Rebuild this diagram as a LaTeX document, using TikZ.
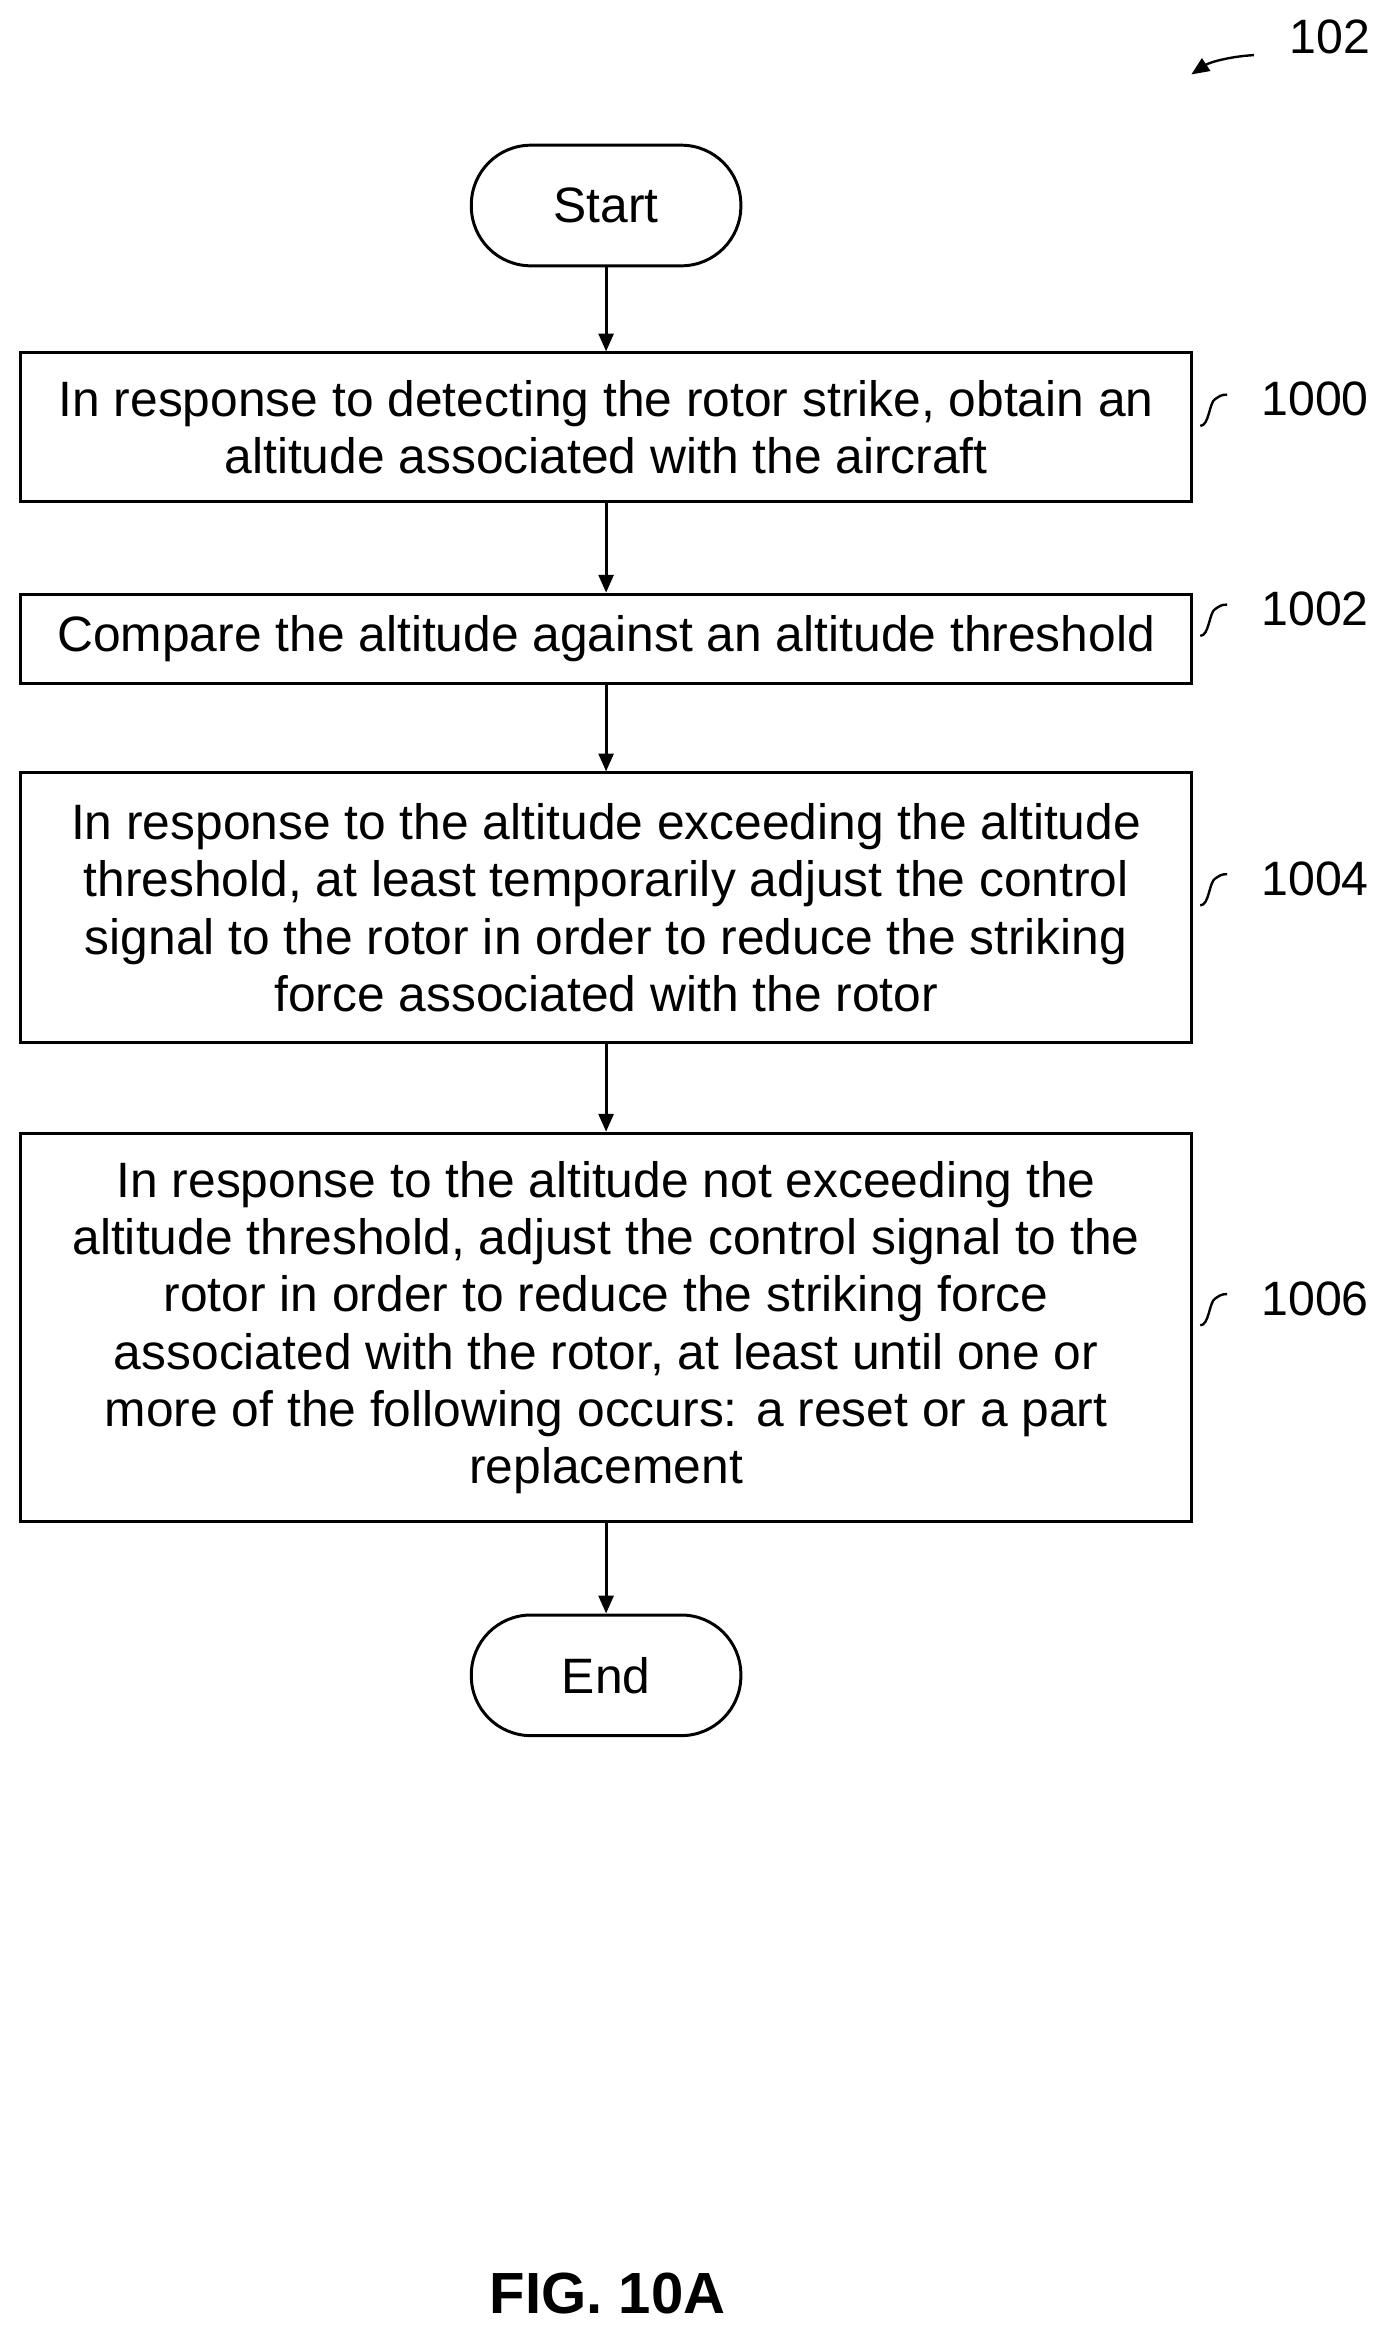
\documentclass[tikz,border=0pt]{standalone}
\usepackage{fontspec}
\setmainfont{Liberation Sans}
\usetikzlibrary{arrows.meta}
\begin{document}
\begin{tikzpicture}[x=0.5pt,y=-0.5pt,
  box/.style={draw,line width=1pt,minimum width=393pt,align=center,font=\fontsize{16.7}{19.2}\selectfont,inner sep=0pt},
  term/.style={draw,line width=1pt,rounded corners=20pt,minimum width=90.5pt,minimum height=40.5pt,font=\fontsize{16.7}{19}\selectfont},
  lab/.style={font=\fontsize{16.2}{19}\selectfont},
  arr/.style={-{Triangle[length=6pt,width=5pt]},line width=1pt},
  sq/.style={line width=0.8pt}]
\useasboundingbox (0,0) rectangle (930,1568);
\node[term] (start) at (407,138) {Start};
\node[box,minimum height=50pt] (b1) at (407,287) {In response to detecting the rotor strike, obtain an\\altitude associated with the aircraft};
\node[box,minimum height=30pt] (b2) at (407,429) {Compare the altitude against an altitude threshold};
\node[box,minimum height=90.5pt] (b3) at (407,609.5) {In response to the altitude exceeding the altitude\\threshold, at least temporarily adjust the control\\signal to the rotor in order to reduce the striking\\force associated with the rotor};
\node[box,minimum height=130.5pt] (b4) at (407,891.5) {In response to the altitude not exceeding the\\altitude threshold, adjust the control signal to the\\rotor in order to reduce the striking force\\associated with the rotor, at least until one or\\more of the following occurs: a reset or a part\\replacement};
\node[term] (end) at (407,1125) {End};
\draw[arr] (start) -- (b1);
\draw[arr] (b1) -- (b2);
\draw[arr] (b2) -- (b3);
\draw[arr] (b3) -- (b4);
\draw[arr] (b4) -- (end);
\foreach \n/\y/\t in {l1/268/1000,l2/409/1002,l3/590/1004,l4/872/1006}{
  \node[lab,anchor=west] (\n) at (840,\y) {\t};
  \draw[sq] (806,\y+18) .. controls (812,\y+18) and (812,\y+2) .. (816,\y) .. controls (819,\y-2) and (820,\y-3) .. (824,\y-3);
}
\node[lab,anchor=west] (n102) at (859,25) {102};
\coordinate (a1) at (842,37);
\coordinate (a2) at (800,50);
\draw[-{Triangle[length=6pt,width=5pt]},line width=0.8pt] (a1) .. controls (825,38) and (812,42) .. (a2);
\node[font=\bfseries\fontsize{19.5}{22}\selectfont] (fig) at (408,1540) {FIG. 10A};
\end{tikzpicture}
\end{document}
